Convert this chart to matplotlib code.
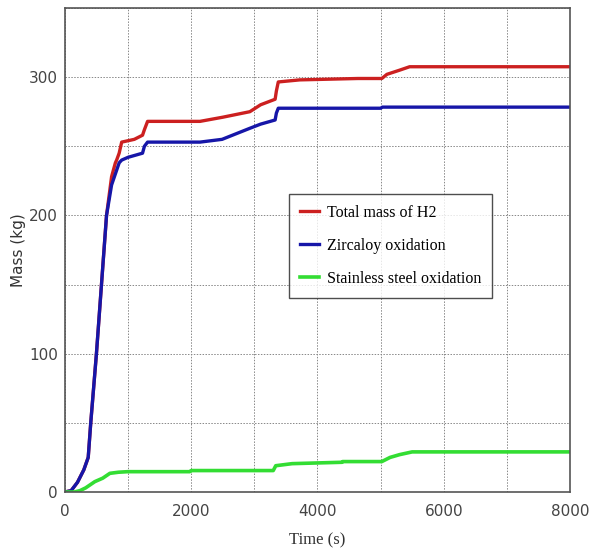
import matplotlib
matplotlib.use('Agg')
import matplotlib.pyplot as plt
from matplotlib.ticker import MultipleLocator

# hydrogen mass curves (time in s, mass in kg)
timeTotal = [0, 100, 200, 300, 370, 410, 500, 580, 660, 740, 800, 820, 860, 900, 1000, 1100, 1230, 1260, 1310,
             1500, 2140, 2500, 2930, 3100, 3330, 3350, 3380, 3720, 4640, 5020, 5100, 5300, 5460, 8000]
massTotal = [0, 1, 7, 16, 25, 50, 100, 150, 200, 228, 238, 240, 245, 253, 254, 255, 258, 262, 268,
             268, 268, 271, 275, 280, 284, 290, 296.5, 298, 299, 299, 302, 305, 307.5, 307.5]

timeZirc = [0, 100, 200, 300, 370, 410, 500, 580, 660, 740, 800, 860, 900, 1000, 1230, 1260, 1310,
            1500, 2140, 2490, 2930, 3100, 3330, 3350, 3380, 5000, 5030, 8000]
massZirc = [0, 1, 7, 16, 25, 50, 100, 150, 200, 222, 230, 238, 240, 242, 245, 250, 253,
            253, 253, 255, 263, 266, 269, 274, 277.5, 277.5, 278.3, 278.3]

timeSteel = [0, 150, 240, 330, 475, 600, 713, 850, 1000, 1980, 2000, 3300, 3340, 3600, 4390, 4400, 5020,
             5150, 5300, 5500, 8000]
massSteel = [0, 0, 1, 3, 7.5, 10, 13.5, 14.3, 14.7, 14.7, 15.5, 15.5, 19, 20.5, 21.5, 22, 22,
             25, 27, 29, 29]

fig = plt.figure(figsize=(5.95, 5.57), dpi=100)
ax = fig.add_axes([0.109, 0.1167, 0.849, 0.869])

ax.plot(timeTotal, massTotal, color='#cc2020', lw=2.4, label='Total mass of H2', solid_joinstyle='round')
ax.plot(timeZirc, massZirc, color='#1616a8', lw=2.4, label='Zircaloy oxidation', solid_joinstyle='round')
ax.plot(timeSteel, massSteel, color='#33dd33', lw=2.6, label='Stainless steel oxidation', solid_joinstyle='round')

ax.set_xlim(0, 8000)
ax.set_ylim(0, 350)
ax.xaxis.set_major_locator(MultipleLocator(2000))
ax.xaxis.set_minor_locator(MultipleLocator(1000))
ax.yaxis.set_major_locator(MultipleLocator(100))
ax.yaxis.set_minor_locator(MultipleLocator(50))
ax.grid(True, which='both', color='#888888', linestyle=(0, (1.5, 1.5)), linewidth=0.7)
ax.set_axisbelow(True)
ax.tick_params(which='both', length=0, labelsize=11, labelcolor='#444444')
ax.tick_params(axis='x', pad=9)
ax.tick_params(axis='y', pad=5)

for sp in ax.spines.values():
    sp.set_color('#555555')
    sp.set_linewidth(1.2)

ax.set_ylabel('Mass (kg)', fontsize=11, color='#333333', labelpad=2)
ax.set_xlabel('Time (s)', fontsize=12, family='Liberation Serif', color='#333333', labelpad=9)

leg = ax.legend(loc='upper left', bbox_to_anchor=(0.444, 0.616), prop={'family': 'Liberation Serif', 'size': 11.5},
                frameon=True, fancybox=False, borderpad=0.7, handlelength=1.15, handletextpad=0.5,
                labelspacing=1.05, borderaxespad=0)
leg.get_frame().set_edgecolor('#222222')
leg.get_frame().set_linewidth(1.0)

fig.savefig('out.png', dpi=100)
